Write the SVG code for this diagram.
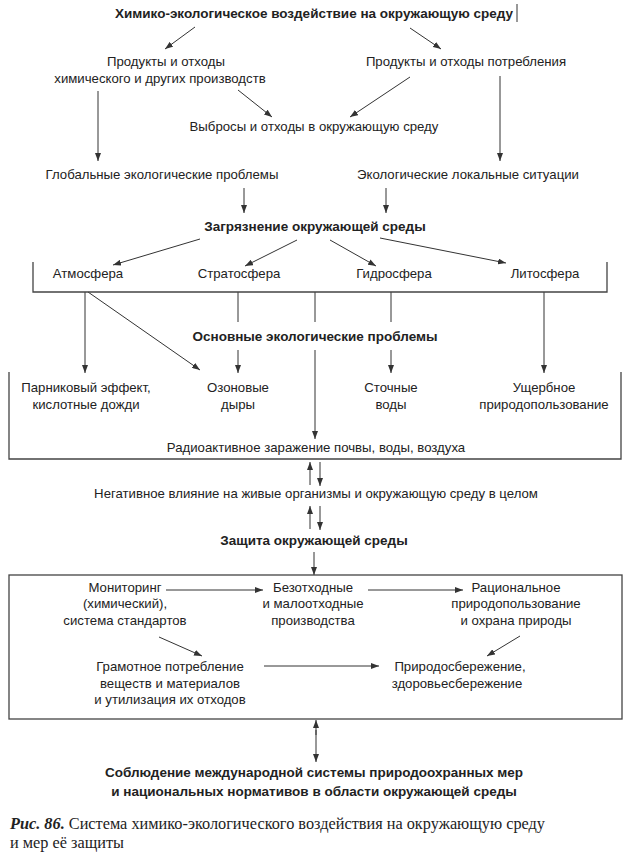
<svg xmlns="http://www.w3.org/2000/svg" width="631" height="857" viewBox="0 0 631 857">
<defs>
<marker id="ah" markerUnits="userSpaceOnUse" markerWidth="8" markerHeight="6" refX="8" refY="3" orient="auto">
<path d="M0,0 L8,3 L0,6 z" fill="#333"/>
</marker>
<style>
text{font-family:"Liberation Sans","DejaVu Sans",sans-serif;font-size:13.2px;fill:#222;text-anchor:middle}
.b{font-weight:bold;font-size:13.5px}
.cap{font-family:"Liberation Serif","DejaVu Serif",serif;font-size:16.3px;text-anchor:start}
.ln{stroke:#333;stroke-width:1;fill:none}
.ar{stroke:#333;stroke-width:1;fill:none;marker-end:url(#ah)}
.bx{stroke:#444;stroke-width:1.3;fill:none}
</style>
</defs>
<rect width="631" height="857" fill="#fff"/>

<g id="connectors">
<line class="ar" x1="195" y1="27" x2="165" y2="49"/>
<line class="ar" x1="410" y1="28" x2="441" y2="49"/>
<line class="ar" x1="238" y1="90" x2="272" y2="117"/>
<line class="ar" x1="410" y1="77" x2="350" y2="117"/>
<line class="ar" x1="98" y1="91" x2="98" y2="161"/>
<line class="ar" x1="500" y1="76" x2="500" y2="161"/>
<line class="ar" x1="244" y1="188" x2="244" y2="213"/>
<line class="ar" x1="386" y1="188" x2="386" y2="213"/>
<line class="ar" x1="200" y1="239" x2="113" y2="265"/>
<line class="ar" x1="297" y1="240" x2="245" y2="266"/>
<line class="ar" x1="330" y1="240" x2="376" y2="266"/>
<line class="ar" x1="380" y1="238" x2="506" y2="263"/>
<line class="ar" x1="85" y1="292" x2="85" y2="373"/>
<line class="ar" x1="88" y1="292" x2="200" y2="370"/>
<line class="ln" x1="238" y1="292" x2="238" y2="322"/>
<line class="ar" x1="238" y1="350" x2="238" y2="373"/>
<line class="ln" x1="315" y1="292" x2="315" y2="322"/>
<line class="ar" x1="315" y1="350" x2="315" y2="439"/>
<line class="ln" x1="391" y1="292" x2="391" y2="322"/>
<line class="ar" x1="391" y1="350" x2="391" y2="373"/>
<line class="ar" x1="544" y1="292" x2="544" y2="373"/>
<line class="ar" x1="310" y1="485" x2="310" y2="462"/>
<line class="ar" x1="320" y1="462" x2="320" y2="486"/>
<line class="ar" x1="310" y1="529" x2="310" y2="506"/>
<line class="ar" x1="320" y1="506" x2="320" y2="530"/>
<line class="ar" x1="314" y1="552" x2="314" y2="575"/>
<line class="ar" x1="166" y1="590" x2="263" y2="590"/>
<line class="ar" x1="368" y1="590" x2="463" y2="590"/>
<line class="ar" x1="159" y1="637" x2="202" y2="656"/>
<line class="ar" x1="520" y1="636" x2="487" y2="656"/>
<line class="ar" x1="264" y1="666" x2="379" y2="666"/>
<line class="ar" x1="316" y1="735" x2="316" y2="720"/>
<line class="ar" x1="316" y1="730" x2="316" y2="762"/>
<line class="ln" x1="517" y1="4" x2="517" y2="22"/>
</g>

<g id="n-title"><text class="b" x="314" y="18">Химико-экологическое воздействие на окружающую среду</text></g>
<g id="n-prod"><text x="166" y="66">Продукты и отходы</text><text x="160" y="83">химического и других производств</text></g>
<g id="n-potr"><text x="466" y="66">Продукты и отходы потребления</text></g>
<g id="n-vybr"><text x="314" y="131">Выбросы и отходы в окружающую среду</text></g>
<g id="n-glob"><text x="162" y="179">Глобальные экологические проблемы</text></g>
<g id="n-lok"><text x="468" y="179">Экологические локальные ситуации</text></g>
<g id="n-zagr"><text class="b" x="315" y="231">Загрязнение окружающей среды</text></g>

<g id="n-spheres">
<path class="bx" d="M33,262 V292 H607 V262"/>
<text x="88" y="278">Атмосфера</text>
<text x="239" y="278">Стратосфера</text>
<text x="394" y="278">Гидросфера</text>
<text x="545" y="278">Литосфера</text>
</g>
<g id="n-osn"><text class="b" x="315" y="341">Основные экологические проблемы</text></g>

<g id="n-problems">
<path class="bx" d="M9,372 V459 H621 V372"/>
<text x="86" y="392">Парниковый эффект,</text><text x="86" y="409">кислотные дожди</text>
<text x="238" y="392">Озоновые</text><text x="238" y="409">дыры</text>
<text x="391" y="392">Сточные</text><text x="391" y="409">воды</text>
<text x="544" y="392">Ущербное</text><text x="544" y="409">природопользование</text>
<text x="316" y="452">Радиоактивное заражение почвы, воды, воздуха</text>
</g>
<g id="n-neg"><text x="316" y="498">Негативное влияние на живые организмы и окружающую среду в целом</text></g>
<g id="n-zash"><text class="b" x="314" y="545">Защита окружающей среды</text></g>

<g id="n-measures">
<rect class="bx" x="9" y="575" width="613" height="144"/>
<text x="125" y="592">Мониторинг</text><text x="125" y="608">(химический),</text><text x="125" y="625">система стандартов</text>
<text x="313" y="592">Безотходные</text><text x="313" y="608">и малоотходные</text><text x="313" y="625">производства</text>
<text x="516" y="592">Рациональное</text><text x="516" y="608">природопользование</text><text x="516" y="625">и охрана природы</text>
<text x="170" y="671">Грамотное потребление</text><text x="170" y="688">веществ и материалов</text><text x="170" y="704">и утилизация их отходов</text>
<text x="460" y="671">Природосбережение,</text><text x="457" y="688">здоровьесбережение</text>
</g>

<g id="n-final">
<text class="b" x="314" y="777">Соблюдение международной системы природоохранных мер</text>
<text class="b" x="314" y="796">и национальных нормативов в области окружающей среды</text>
</g>

<g id="caption">
<text class="cap" x="10" y="829"><tspan font-weight="bold" font-style="italic">Рис. 86.</tspan> Система химико-экологического воздействия на окружающую среду</text>
<text class="cap" x="10" y="848">и мер её защиты</text>
</g>
</svg>
